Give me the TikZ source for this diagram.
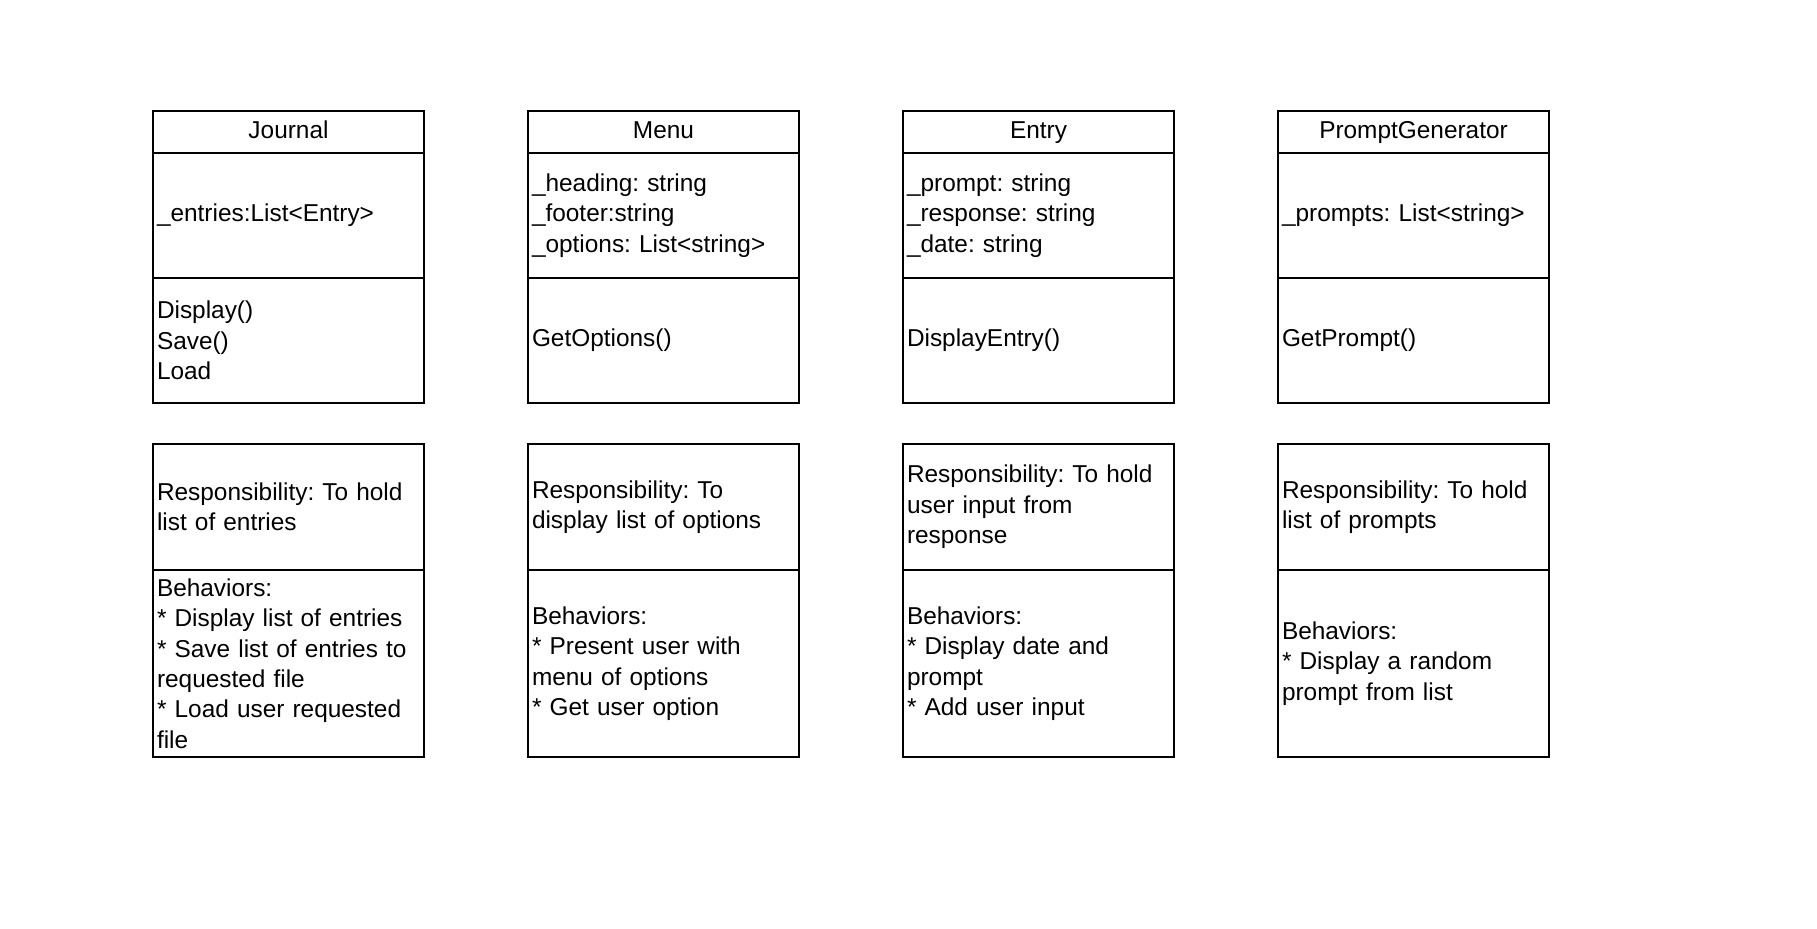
\documentclass[tikz,border=0pt]{standalone}
\usepackage{fontspec}
\setmainfont{Liberation Sans}
\frenchspacing
\begin{document}
\begin{tikzpicture}[x=0.5pt,y=-0.5pt,
  comp/.style={draw, line width=1pt, outer sep=0pt, anchor=north west, text width=131.5pt,
    inner xsep=2pt, inner ysep=0pt, align=left, font=\fontsize{12.2}{15.2}\selectfont},
  title/.style={comp, align=center, minimum height=21pt, execute at begin node=\strut},
  attr/.style={comp, minimum height=62.5pt},
  meth/.style={comp, minimum height=62.5pt},
  resp/.style={comp, minimum height=63pt},
  beh/.style={comp, minimum height=93.5pt}]
\useasboundingbox (0,0) rectangle (1817,928);
% Journal
\node[title] (jt) at (153,111) {Journal};
\node[attr] (ja) at (jt.south west) {\_entries:List<Entry>};
\node[meth] (jm) at (ja.south west) {Display()\\Save()\\Load};
\node[resp] (jr) at (153,444) {Responsibility: To hold\\list of entries};
\node[beh] (jb) at (jr.south west) {Behaviors:\\{}* Display list of entries\\{}* Save list of entries to\\requested file\\{}* Load user requested\\file};
% Menu
\node[title] (mt) at (528,111) {Menu};
\node[attr] (ma) at (mt.south west) {\_heading: string\\\_footer:string\\\_options: List<string>};
\node[meth] (mm) at (ma.south west) {GetOptions()};
\node[resp] (mr) at (528,444) {Responsibility: To\\display list of options};
\node[beh] (mb) at (mr.south west) {Behaviors:\\{}* Present user with\\menu of options\\{}* Get user option};
% Entry
\node[title] (et) at (903,111) {Entry};
\node[attr] (ea) at (et.south west) {\_prompt: string\\\_response: string\\\_date: string};
\node[meth] (em) at (ea.south west) {DisplayEntry()};
\node[resp] (er) at (903,444) {Responsibility: To hold\\user input from\\response};
\node[beh] (eb) at (er.south west) {Behaviors:\\{}* Display date and\\prompt\\{}* Add user input};
% PromptGenerator
\node[title] (pt) at (1278,111) {PromptGenerator};
\node[attr] (pa) at (pt.south west) {\_prompts: List<string>};
\node[meth] (pm) at (pa.south west) {GetPrompt()};
\node[resp] (pr) at (1278,444) {Responsibility: To hold\\list of prompts};
\node[beh] (pb) at (pr.south west) {Behaviors:\\{}* Display a random\\prompt from list};
\end{tikzpicture}
\end{document}
